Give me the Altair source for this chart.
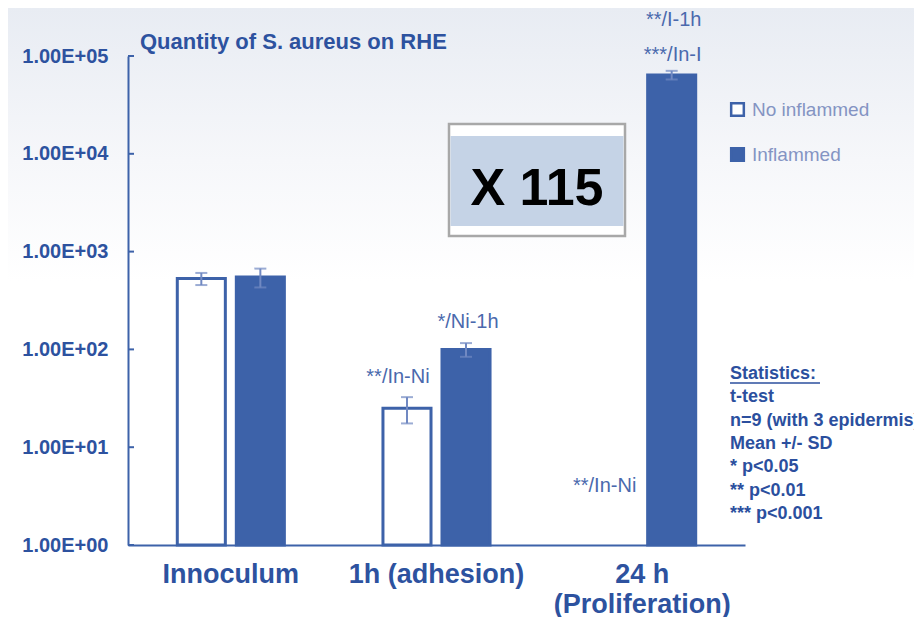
import altair as alt
import pandas as pd

# ---- data ----
categories = ["Innoculum", "1h (adhesion)", "24 h (Proliferation)"]
groups = ["No inflammed", "Inflammed"]
noinfl_mean = [530, 25, None]
infl_mean = [550, 100, 64000]
noinfl_sd = [75, 7.5, None]
infl_sd = [120, 16, 6500]

ann_category = ["1h (adhesion)", "1h (adhesion)", "24 h (Proliferation)", "24 h (Proliferation)", "24 h (Proliferation)"]
ann_group = ["No inflammed", "Inflammed", "No inflammed", "Inflammed", "Inflammed"]
ann_text = ["**/In-Ni", "*/Ni-1h", "**/In-Ni", "***/In-I", "**/I-1h"]
ann_value = [52, 190, 4.0, 102000, 232000]
ann_dx = [-9, 2, -8, 1, 2]

y_ticks = [1, 10, 100, 1000, 10000, 100000]

stats_lines = ["Statistics:", "t-test", "n=9 (with 3 epidermis)", "Mean +/- SD",
               "* p<0.05", "** p<0.01", "*** p<0.001"]

# ---- tables ----
rows = []
for i, c in enumerate(categories):
    rows.append({"category": c, "group": groups[0], "mean": noinfl_mean[i], "sd": noinfl_sd[i]})
    rows.append({"category": c, "group": groups[1], "mean": infl_mean[i], "sd": infl_sd[i]})
df = pd.DataFrame(rows).dropna()
df["lo"] = df["mean"] - df["sd"]
df["hi"] = df["mean"] + df["sd"]

ann = pd.DataFrame({"category": ann_category, "group": ann_group, "label": ann_text,
                    "v": ann_value, "dx": ann_dx})
ticks_df = pd.DataFrame({"t": y_ticks})
one = pd.DataFrame({"a": [0]})

BLUE = "#3D62A9"
TXT = "#2D529F"
ERR = "#7189C2"
W, H = 617, 489

xs = alt.X("category:N", sort=categories,
           scale=alt.Scale(paddingInner=0.426, paddingOuter=0.213),
           axis=alt.Axis(title=None, labelAngle=0, ticks=False, grid=False, zindex=2,
                         labelFontSize=27, labelFontWeight="bold", labelColor=TXT,
                         labelPadding=16, labelLineHeight=30, labelLimit=400,
                         labelExpr="datum.value == '24 h (Proliferation)' ? ['24 h', '(Proliferation)'] : datum.value",
                         domainColor=BLUE, domainWidth=2))
xo = alt.XOffset("group:N", sort=groups,
                 scale=alt.Scale(paddingInner=0.186, paddingOuter=0.093))
ys = alt.Y("mean:Q",
           scale=alt.Scale(type="log", domain=[1, 100000], nice=False),
           axis=alt.Axis(title=None, values=y_ticks, ticks=False, grid=False, zindex=2,
                         labelFontSize=20, labelFontWeight="bold", labelColor=TXT,
                         labelPadding=20,
                         labelExpr="'1.00E+0' + round(log(datum.value) / LN10)",
                         domainColor=BLUE, domainWidth=2))

bg = alt.Chart(one).mark_rect(
    color=alt.LinearGradient(gradient="linear", x1=0, x2=0, y1=0, y2=1,
                             stops=[alt.GradientStop(color="#E8ECF3", offset=0),
                                    alt.GradientStop(color="#F6F7FA", offset=0.25),
                                    alt.GradientStop(color="#FFFFFF", offset=0.45)])
).encode(x=alt.value(-120), x2=alt.value(W + 170), y=alt.value(-48), y2=alt.value(H + 72))

bars = alt.Chart(df).mark_bar(stroke=BLUE, strokeWidth=3).encode(
    x=xs, xOffset=xo, y=ys, y2=alt.datum(1),
    fill=alt.Fill("group:N", sort=groups,
                  scale=alt.Scale(domain=groups, range=["#FFFFFF", BLUE]),
                  legend=alt.Legend(title=None, orient="none", legendX=600, legendY=44,
                                    symbolType="square", symbolSize=160,
                                    symbolStrokeColor=BLUE, symbolStrokeWidth=2.5,
                                    labelFontSize=19, labelColor="#8494C3",
                                    labelOffset=5, rowPadding=22, padding=0)),
)

err = alt.Chart(df).mark_rule(color=ERR, strokeWidth=2).encode(
    x=alt.X("category:N", sort=categories), xOffset=alt.XOffset("group:N", sort=groups),
    y=alt.Y("lo:Q"), y2="hi:Q")
cap_lo = alt.Chart(df).mark_tick(color=ERR, thickness=2, size=12).encode(
    x=alt.X("category:N", sort=categories), xOffset=alt.XOffset("group:N", sort=groups),
    y=alt.Y("lo:Q"))
cap_hi = alt.Chart(df).mark_tick(color=ERR, thickness=2, size=12).encode(
    x=alt.X("category:N", sort=categories), xOffset=alt.XOffset("group:N", sort=groups),
    y=alt.Y("hi:Q"))

ytick_marks = alt.Chart(ticks_df).mark_rule(color=BLUE, strokeWidth=2).encode(
    y=alt.Y("t:Q"), x=alt.value(0), x2=alt.value(6))

ann_layers = []
for i in range(len(ann_text)):
    sub = ann.iloc[[i]]
    ann_layers.append(
        alt.Chart(sub).mark_text(fontSize=20, color="#4A69AD", baseline="middle",
                                 dx=float(ann_dx[i])).encode(
            x=alt.X("category:N", sort=categories), xOffset=alt.XOffset("group:N", sort=groups),
            y=alt.Y("v:Q"), text="label:N"))

title = alt.Chart(one).mark_text(text="Quantity of S. aureus on RHE", fontSize=22,
                                 fontWeight="bold", color=TXT, align="left",
                                 baseline="middle").encode(x=alt.value(12), y=alt.value(-14))

box_outer = alt.Chart(one).mark_rect(fill="#FFFFFF", stroke="#A8A8A8", strokeWidth=2.5).encode(
    x=alt.value(321), x2=alt.value(497), y=alt.value(68), y2=alt.value(180))
box_inner = alt.Chart(one).mark_rect(fill="#C5D3E6").encode(
    x=alt.value(322.5), x2=alt.value(495.5), y=alt.value(80), y2=alt.value(170))
box_text = alt.Chart(one).mark_text(text="X 115", fontSize=52, fontWeight="bold",
                                    color="#000000", baseline="middle").encode(
    x=alt.value(409), y=alt.value(133))

stats = alt.Chart(one).mark_text(text=stats_lines, fontSize=18, fontWeight="bold",
                                 color="#2B4F9E", align="left", baseline="alphabetic",
                                 lineHeight=23.3).encode(x=alt.value(602), y=alt.value(323))
underline = alt.Chart(one).mark_rule(color="#2B4F9E", strokeWidth=1.5).encode(
    x=alt.value(602), x2=alt.value(692), y=alt.value(327))

chart = alt.layer(
    bg, bars, err, cap_lo, cap_hi, ytick_marks, *ann_layers, title,
    box_outer, box_inner, box_text, stats, underline
).properties(
    width=W, height=H,
    autosize=alt.AutoSizeParams(type="none"),
    padding={"left": 120, "top": 48, "right": 169, "bottom": 72},
).configure(font="Liberation Sans", background="#FFFFFF").configure_view(stroke=None)

chart.save("out.html", embed_options={"renderer": "svg", "actions": False})
